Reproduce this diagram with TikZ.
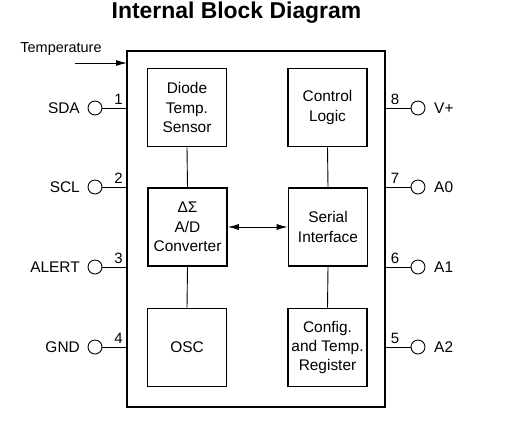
\documentclass[tikz,border=0pt]{standalone}
\usepackage{fontspec}
\setmainfont{Liberation Sans}
\usetikzlibrary{arrows.meta}
\begin{document}
\begin{tikzpicture}[x=1bp,y=-1bp,
  blockbox/.style={draw, line width=1.6bp, minimum width=79bp, minimum height=78bp, align=center, inner sep=0pt,
     font=\fontsize{15.5}{19.5}\selectfont},
  pincirc/.style={draw, circle, line width=0.9bp, minimum size=14bp, inner sep=0pt},
  wire/.style={line width=0.9bp},
  pinlabel/.style={font=\fontsize{15.5}{18}\selectfont, inner sep=0pt},
  pinnum/.style={font=\fontsize{15}{18}\selectfont, inner sep=0pt, anchor=base},
  tip/.style={-{Latex[length=11bp,width=6bp]}}
]
\useasboundingbox (0,0) rectangle (507,431);
\node[font=\fontsize{23}{26}\selectfont\bfseries] (title) at (236.5,12.5) {Internal Block Diagram};
% outer box
\draw[line width=2.2bp] (127,51) rectangle (385,407);
% blocks
\node[blockbox] (diode) at (187,107.5) {Diode\\Temp.\\Sensor};
\node[blockbox] (ctrl) at (327.5,107.5) {Control\\Logic};
\node[blockbox] (adc) at (187.5,227) {ΔΣ\\A/D\\Converter};
\node[blockbox] (serial) at (328,227) {Serial\\Interface};
\node[blockbox] (osc) at (187,347.5) {OSC};
\node[blockbox] (cfg) at (327.5,347.5) {Config.\\and Temp.\\Register};
\draw[wire] (diode.south) -- (adc.north);
\draw[wire] (adc.south) -- (osc.north);
\draw[wire] (ctrl.south) -- (serial.north);
\draw[wire] (serial.south) -- (cfg.north);
\draw[wire, {Latex[length=11bp,width=6bp]}-{Latex[length=11bp,width=6bp]}] (adc.east) -- (serial.west);
% temperature
\node[font=\fontsize{14.5}{17}\selectfont, inner sep=0pt] (temp) at (61,49) {Temperature};
\coordinate (tin) at (75,63);
\coordinate (tout) at (127,63);
\draw[wire, tip] (tin) -- (tout);
% left pins
\foreach \n/\lab/\y in {1/SDA/108, 2/SCL/187, 3/ALERT/267, 4/GND/347}{
  \node[pincirc] (pl\n) at (95,\y) {};
  \coordinate (bl\n) at (127,\y);
  \draw[wire] (pl\n.east) -- (bl\n);
  \node[pinlabel, anchor=east] (ll\n) at (80,\y) {\lab};
  \node[pinnum] (nl\n) at (118.5,\y-4) {\n};
}
% right pins
\foreach \n/\lab/\y in {8/V+/108, 7/A0/187, 6/A1/267, 5/A2/347}{
  \node[pincirc] (pr\n) at (418,\y) {};
  \coordinate (br\n) at (385,\y);
  \draw[wire] (br\n) -- (pr\n.west);
  \node[pinlabel, anchor=west] (lr\n) at (434,\y) {\lab};
  \node[pinnum] (nr\n) at (395,\y-4) {\n};
}
\end{tikzpicture}
\end{document}
